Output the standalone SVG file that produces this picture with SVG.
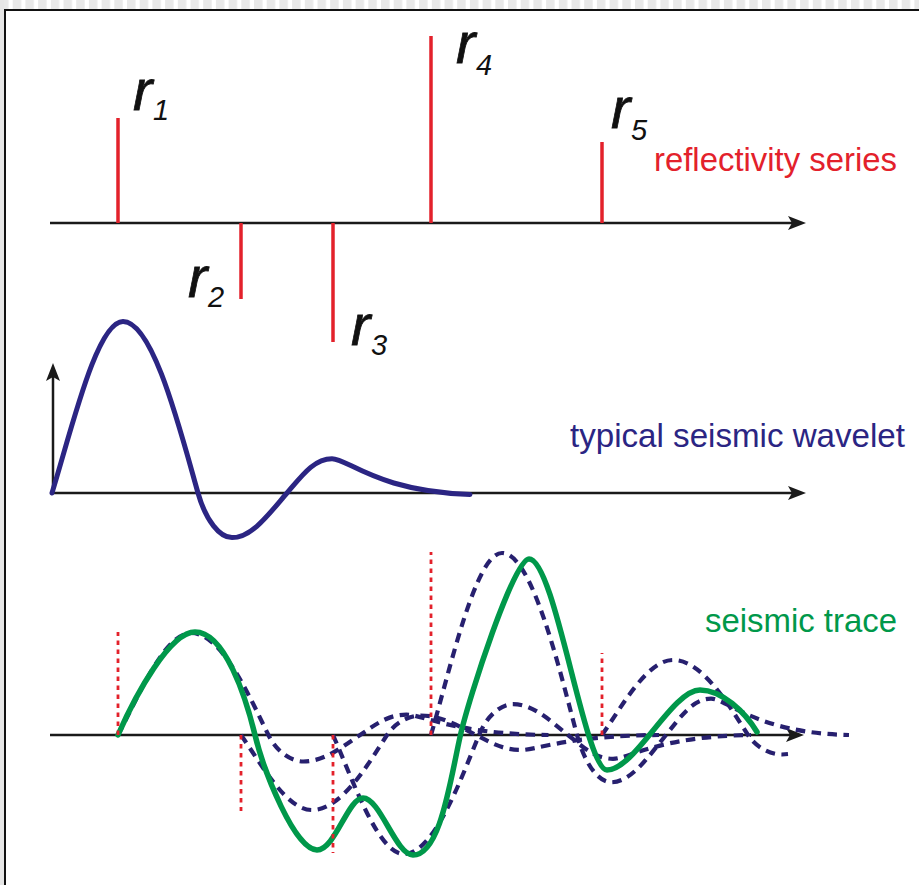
<svg xmlns="http://www.w3.org/2000/svg" width="919" height="885" viewBox="0 0 919 885">
<defs>
<style>
.axis{stroke:#1a1a1a;stroke-width:2.5;fill:none}
.spike{stroke:#e3212b;stroke-width:3.5;fill:none}
.dot{stroke:#e3212b;stroke-width:2.8;stroke-dasharray:4.5 4.5;fill:none}
.wav{stroke:#2b2583;stroke-width:5;fill:none;stroke-linecap:round}
.dash{stroke:#27206f;stroke-width:4.2;stroke-dasharray:9.5 6.5;fill:none}
.trace{stroke:#00984a;stroke-width:5.5;fill:none;stroke-linecap:round}
.r{font-family:"Liberation Sans",Arial,sans-serif;font-style:italic;font-size:58px;fill:#111;stroke:#111;stroke-width:0.8}
.sub{font-family:"Liberation Sans",Arial,sans-serif;font-style:italic;font-size:29px;fill:#111}
.lbl{font-family:"Liberation Sans",Arial,sans-serif;font-size:32.5px}
</style>
<pattern id="strip" width="12.7" height="9" patternUnits="userSpaceOnUse"><rect width="8.5" height="9" fill="#e8e8e8"/></pattern>
<marker id="arr" markerUnits="userSpaceOnUse" markerWidth="18" markerHeight="14" refX="10" refY="7" viewBox="0 0 18 14" orient="auto"><path d="M0,0 L18,7 L0,14 L4,7 Z" fill="#1a1a1a"/></marker>
</defs>
<rect width="919" height="885" fill="#ffffff"/>
<rect x="0" y="0" width="919" height="9" fill="url(#strip)"/>
<rect x="0" y="0" width="4" height="885" fill="#e6e6e6"/>
<g id="frame" fill="none" stroke="#111" stroke-width="2">
<line x1="4" y1="10" x2="919" y2="10"/>
<line x1="5" y1="9" x2="5" y2="885"/>
</g>

<g id="connectors">
<line class="axis" x1="50" y1="223" x2="798" y2="223" marker-end="url(#arr)"/>
<line class="axis" x1="50" y1="493" x2="798" y2="493" marker-end="url(#arr)"/>
<line class="axis" x1="53" y1="493" x2="53" y2="371" marker-end="url(#arr)"/>
<line class="axis" x1="50" y1="735" x2="796" y2="735" marker-end="url(#arr)"/>
</g>

<g id="reflectivity">
<line class="spike" x1="118" y1="118" x2="118" y2="223"/>
<line class="spike" x1="241" y1="223" x2="241" y2="299"/>
<line class="spike" x1="333" y1="223" x2="333" y2="342"/>
<line class="spike" x1="431" y1="36" x2="431" y2="223"/>
<line class="spike" x1="602" y1="142" x2="602" y2="223"/>
<text class="r" x="133" y="110">r</text><text class="sub" x="153" y="120">1</text>
<text class="r" x="188" y="297">r</text><text class="sub" x="208" y="307">2</text>
<text class="r" x="351" y="345">r</text><text class="sub" x="371" y="355">3</text>
<text class="r" x="456" y="63">r</text><text class="sub" x="476" y="75">4</text>
<text class="r" x="611" y="128">r</text><text class="sub" x="631" y="140">5</text>
<text class="lbl" x="654" y="171" fill="#e3212b" textLength="243" lengthAdjust="spacingAndGlyphs">reflectivity series</text>
</g>

<g id="wavelet">
<path class="wav" d="M52,493 C72,427.8 97,321.5 123,321.5 C153,321.5 180,429.5 198,493 C206,521.1 220,537.6 232,537.6 C252,537.6 269,513.9 287,493 C302,475.5 314,458.7 332,458.7 C348,458.7 377,491.3 470,494.5"/>
<text class="lbl" x="570" y="447" fill="#2b2583" textLength="335" lengthAdjust="spacingAndGlyphs">typical seismic wavelet</text>
</g>

<g id="trace">
<path class="dash" d="M118,735 C138.6,696.2 164.4,633 191.1,633 C222,633 249.8,697.3 268.4,735 C276.6,751.7 291,761.5 303.4,761.5 C324,761.5 341.5,747.4 360.1,735 C375.5,724.6 387.9,714.6 406.4,714.6 C422.9,714.6 452.8,734 548.5,735"/>
<path class="dash" d="M241,735 C261,763.5 286,810 312,810 C342,810 369,762.75 387,735 C395,722.7 409,715.5 421,715.5 C441,715.5 458,725.85 476,735 C491,742.65 503,750 521,750 C537,750 566,735.75 659,735"/>
<path class="dash" d="M333,735 C353,780.2 378,854 404,854 C434,854 461,779 479,735 C487,715.5 501,704.1 513,704.1 C533,704.1 550,720.5 568,735 C583,747.1 595,758.8 613,758.8 C629,758.8 658,736.2 751,735"/>
<path class="dash" d="M431,735 C451,665.8 476,553 502,553 C532,553 559,667.7 577,735 C585,764.8 599,782.3 611,782.3 C631,782.3 648,757.2 666,735 C681,716.4 693,698.6 711,698.6 C727,698.6 756,733.2 849,735"/>
<path class="dash" d="M602,735 C622,706.5 647,660 673,660 C703,660 730,707.25 748,735 C756,747.3 770,754.5 782,754.5 L788,754"/>
<path class="trace" d="M118,735 C136,694 170,632 195,632 C225,632 246,698 255,735 C264,772 295,850 317,850 C335,850 348,798 363,798 C380,798 396,855 413,855 C440,855 450,782 460,737 C469,697 514,559 529,559 C555,559 585,770 607,770 C635,770 672,690 700,690 C722,690 745,712 757,732"/>
<line class="dot" x1="118" y1="735" x2="118" y2="632"/>
<line class="dot" x1="241" y1="735" x2="241" y2="811"/>
<line class="dot" x1="333" y1="735" x2="333" y2="853"/>
<line class="dot" x1="431" y1="735" x2="431" y2="552"/>
<line class="dot" x1="602" y1="735" x2="602" y2="653"/>
<text class="lbl" x="705" y="632" fill="#00984a" textLength="192" lengthAdjust="spacingAndGlyphs">seismic trace</text>
</g>
</svg>
